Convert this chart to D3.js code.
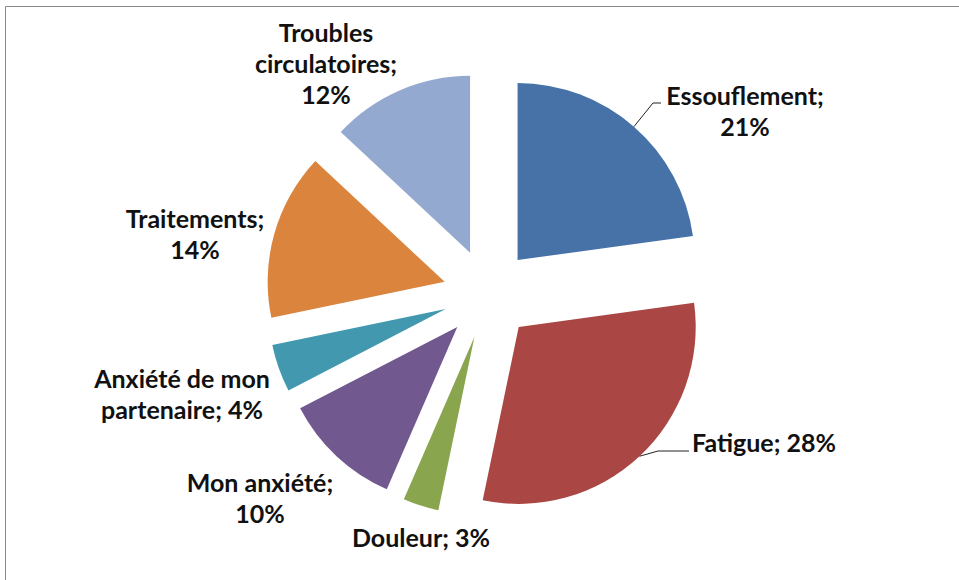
<!DOCTYPE html>
<html>
<head>
<meta charset="utf-8">
<script src="https://cdn.jsdelivr.net/npm/d3@7"></script>
<style>
  html, body { margin: 0; padding: 0; background: #fff; }
  svg { display: block; }
  text { font-family: Lato, "Open Sans", sans-serif; font-weight: bold; fill: #111; }
</style>
</head>
<body>
<svg id="chart" width="959" height="580"></svg>
<script>
// ---- data ----
const categories = ["Essouflement", "Fatigue", "Douleur", "Mon anxiété", "Anxiété de mon partenaire", "Traitements", "Troubles circulatoires"];
const values = [21, 28, 3, 10, 4, 14, 12];
const labelLines = [
  ["Essouflement;", "21%"],
  ["Fatigue; 28%"],
  ["Douleur; 3%"],
  ["Mon anxiété;", "10%"],
  ["Anxiété de mon", "partenaire; 4%"],
  ["Traitements;", "14%"],
  ["Troubles", "circulatoires;", "12%"]
];
const colors = ["#4672A8", "#AA4643", "#89A54E", "#71588F", "#4198AF", "#DB843D", "#93A9CF"];

// ---- layout ----
const cx = 488, cy = 294, radius = 177, explode = 45;
const fontSize = 25, lineH = 31;
// label centre x and first baseline y (manual label placement)
const labelAnchor = [
  [745, 105], [764, 452], [421, 547], [260, 492], [182, 388], [195, 228], [326, 42]
];
const leaderSlices = { 0: [[653, 103], [661, 103]], 1: [[658, 451], [689, 451]] };

const svg = d3.select("#chart");
svg.append("path")
  .attr("d", "M5.5,580 L5.5,6.5 L959,6.5")
  .attr("fill", "none").attr("stroke", "#8a8a8a").attr("stroke-width", 1);

const pie = d3.pie().sort(null).value(d => d).startAngle(0).endAngle(2 * Math.PI);
const arcs = pie(values);
const arc = d3.arc().innerRadius(0).outerRadius(radius);

const g = svg.append("g").attr("transform", `translate(${cx},${cy})`);
arcs.forEach((a, i) => {
  const mid = (a.startAngle + a.endAngle) / 2;
  const ox = Math.sin(mid) * explode, oy = -Math.cos(mid) * explode;
  g.append("path")
    .attr("d", arc(a))
    .attr("transform", `translate(${ox},${oy})`)
    .attr("fill", colors[i]);
  if (leaderSlices[i]) {
    const px = cx + ox + Math.sin(mid) * radius;
    const py = cy + oy - Math.cos(mid) * radius;
    const pts = [[px, py]].concat(leaderSlices[i]);
    svg.append("path")
      .attr("d", d3.line()(pts))
      .attr("fill", "none").attr("stroke", "#222").attr("stroke-width", 1);
  }
});

labelLines.forEach((lines, i) => {
  const [x, y] = labelAnchor[i];
  const t = svg.append("text")
    .attr("text-anchor", "middle")
    .attr("font-size", fontSize);
  lines.forEach((ln, k) => {
    t.append("tspan").attr("x", x).attr("y", y + k * lineH).text(ln);
  });
});
</script>
</body>
</html>
